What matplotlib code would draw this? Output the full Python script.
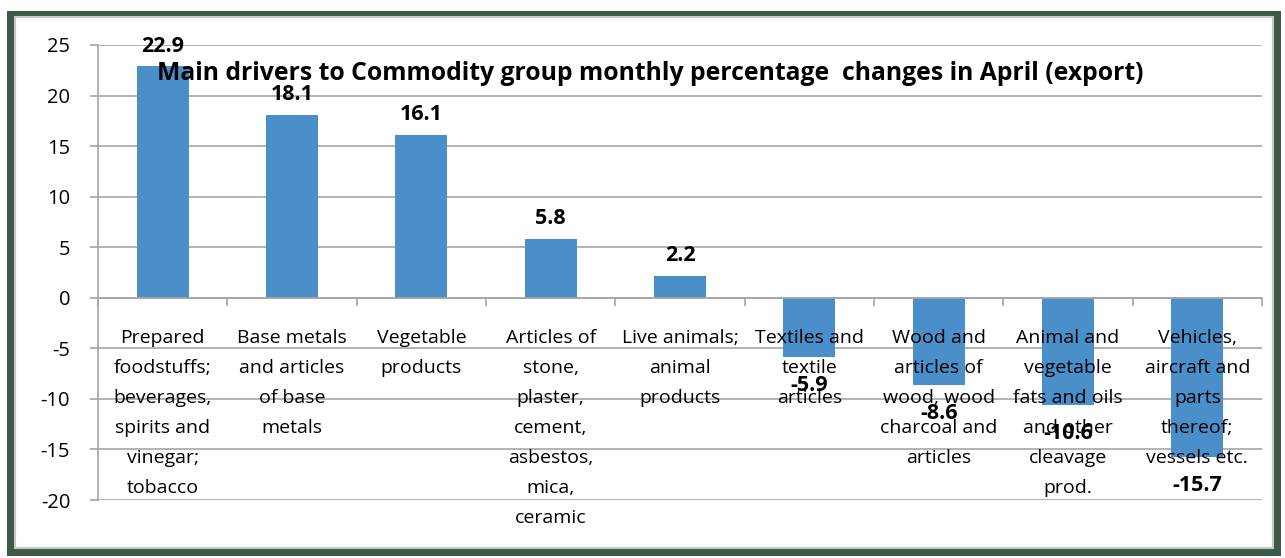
import numpy as np
from matplotlib import pyplot as plt
from matplotlib.patches import Rectangle

categories = [
    "Prepared\nfoodstuffs;\nbeverages,\nspirits and\nvinegar;\ntobacco",
    "Base metals\nand articles\nof base\nmetals",
    "Vegetable\nproducts",
    "Articles of\nstone,\nplaster,\ncement,\nasbestos,\nmica,\nceramic",
    "Live animals;\nanimal\nproducts",
    "Textiles and\ntextile\narticles",
    "Wood and\narticles of\nwood, wood\ncharcoal and\narticles",
    "Animal and\nvegetable\nfats and oils\nand other\ncleavage\nprod.",
    "Vehicles,\naircraft and\nparts\nthereof;\nvessels etc.",
]
values = [22.9, 18.1, 16.1, 5.8, 2.2, -5.9, -8.6, -10.6, -15.7]
yticks = [-20, -15, -10, -5, 0, 5, 10, 15, 20, 25]

title = "Main drivers to Commodity group monthly percentage  changes in April (export)"

plt.rcParams['font.family'] = ['Open Sans', 'DejaVu Sans']

fig = plt.figure(figsize=(12.85, 5.58), dpi=100)

# dark green frame and light inner border
fig.patches.append(Rectangle((7 / 1285, 2 / 558), 1274 / 1285, 545 / 558,
                             transform=fig.transFigure, facecolor='#3b5b45',
                             edgecolor='none', zorder=-3))
fig.patches.append(Rectangle((15 / 1285, 10 / 558), 1258 / 1285, 531 / 558,
                             transform=fig.transFigure, facecolor='white',
                             edgecolor='#c8c8c8', linewidth=1.5, zorder=-2))

ax = fig.add_axes([98 / 1285, 1 - 500 / 558, (1262 - 98) / 1285, 455 / 558])
ax.set_facecolor('none')

x = np.arange(len(categories))
for yv in yticks:
    ax.axhline(yv, color='#a6a6a6', linewidth=1.2, zorder=0)
ax.bar(x, values, width=0.4, color='#4a8fca', zorder=0.8)

ax.set_xlim(-0.5, len(categories) - 0.5)
ax.set_ylim(-20, 25)
ax.set_yticks(yticks)
ax.set_yticklabels([str(v) for v in yticks], fontsize=14.5)
ax.tick_params(axis='y', length=6, color='#a6a6a6', width=1.2, pad=14)

ax.spines['top'].set_visible(False)
ax.spines['right'].set_visible(False)
ax.spines['left'].set_color('#a6a6a6')
ax.spines['left'].set_linewidth(1.2)
ax.spines['bottom'].set_position(('data', 0))
ax.spines['bottom'].set_color('#a6a6a6')
ax.spines['bottom'].set_linewidth(1.2)

ax.set_xticks(x)
ax.set_xticklabels(categories, fontsize=14, linespacing=1.86)
ax.set_xticks(np.arange(len(categories) + 1) - 0.5, minor=True)
ax.tick_params(axis='x', which='major', length=0, pad=22.5)
ax.tick_params(axis='x', which='minor', length=6, color='#a6a6a6', width=1.2)

for xi, v in zip(x, values):
    if v >= 0:
        ax.annotate(f"{v}", (xi, v), xytext=(0, 7), textcoords='offset points',
                    ha='center', va='bottom', fontsize=15.5, fontweight='bold', zorder=5)
    else:
        ax.annotate(f"{v}", (xi, v), xytext=(0, -13), textcoords='offset points',
                    ha='center', va='top', fontsize=15.5, fontweight='bold', zorder=5)

fig.text(650 / 1285, 1 - 73 / 558, title, ha='center', va='center',
         fontsize=17.8, fontweight='bold')

fig.savefig("out.png", dpi=100)
